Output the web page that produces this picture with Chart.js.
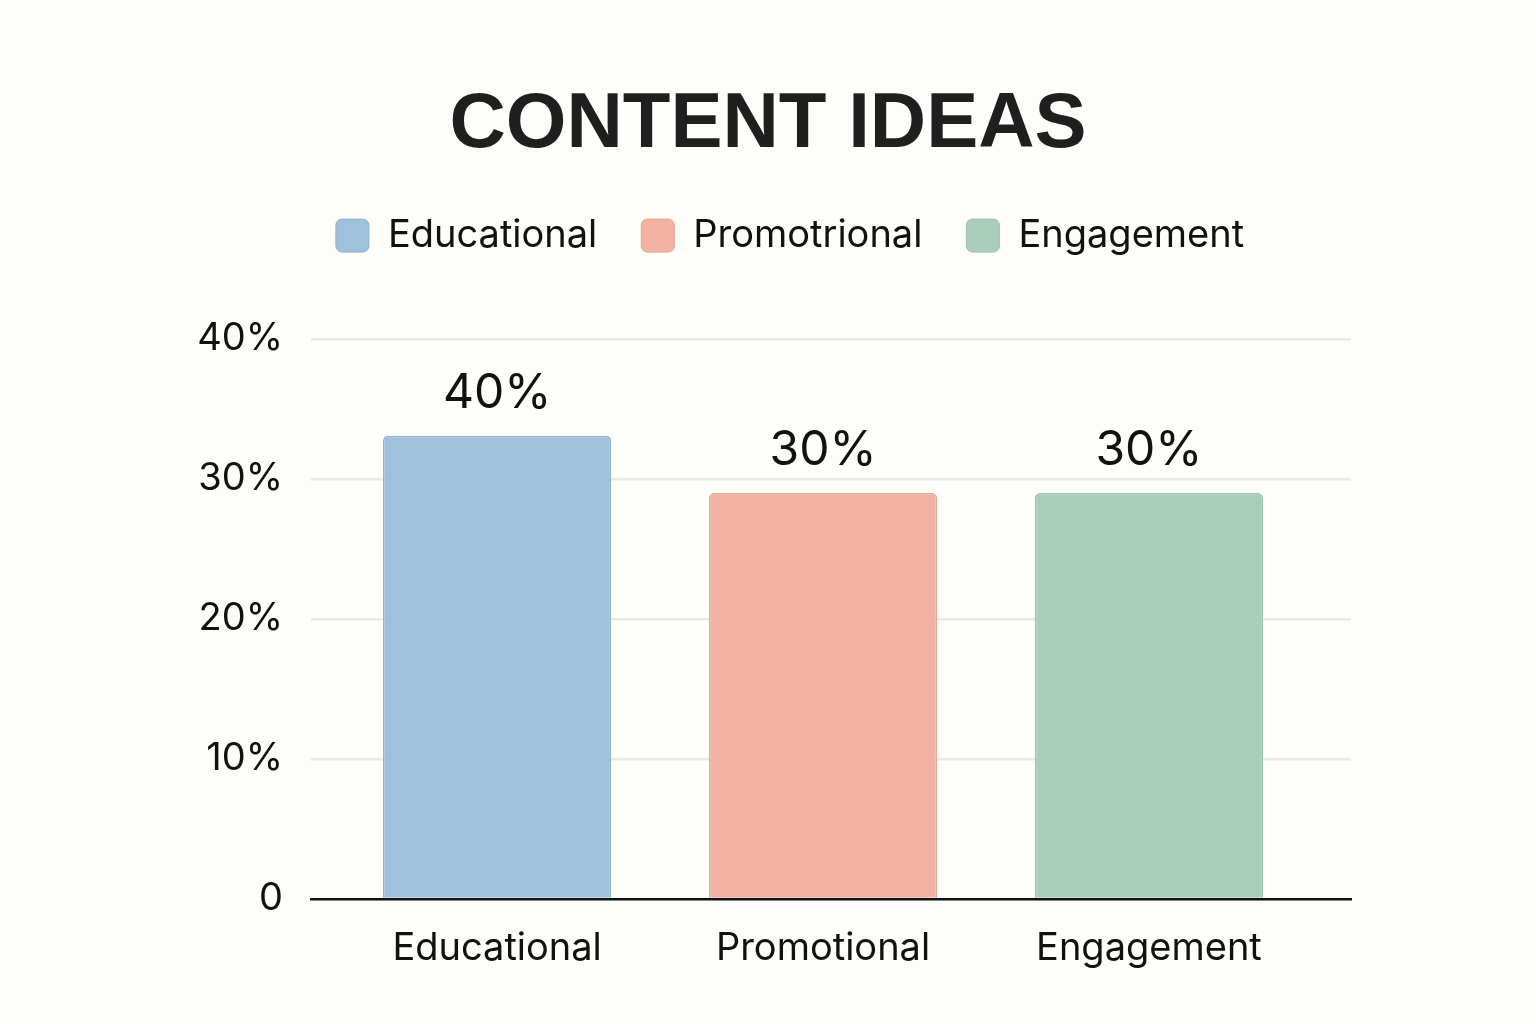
<!DOCTYPE html>
<html>
<head>
<meta charset="utf-8">
<script src="https://cdn.jsdelivr.net/npm/chart.js@4.4.1/dist/chart.umd.min.js"></script>
<style>
  html, body { margin: 0; padding: 0; background: #fdfdf9; }
  #wrap { width: 1536px; height: 1024px; }
</style>
</head>
<body>
<div id="wrap"><canvas id="c" width="1536" height="1024"></canvas></div>
<script>
const titleText = 'CONTENT IDEAS';
const categories = ['Educational', 'Promotional', 'Engagement'];
const legendNames = ['Educational', 'Promotrional', 'Engagement'];
const barHeights = [33.1, 29.0, 29.0];
const valueLabels = ['40%', '30%', '30%'];
const yTickValues = [0, 10, 20, 30, 40];
const yTickLabels = ['0', '10%', '20%', '30%', '40%'];
const fillColors = ['#9fc0db', '#f1b2a3', '#a9cdba'];
const borderColors = ['#8fb3d2', '#e8a595', '#9cc3ae'];

const FONT = 'Inter, "Noto Sans", sans-serif';

const valueLabelPlugin = {
  id: 'valueLabels',
  afterDatasetsDraw(chart) {
    const ctx = chart.ctx;
    const meta = chart.getDatasetMeta(0);
    ctx.save();
    ctx.font = '48px ' + FONT;
    ctx.fillStyle = '#111';
    ctx.textAlign = 'center';
    ctx.textBaseline = 'middle';
    meta.data.forEach((bar, i) => {
      ctx.fillText(valueLabels[i], bar.x, bar.y - 42);
    });
    ctx.restore();
  }
};

const bgPlugin = {
  id: 'bg',
  beforeDraw(chart) {
    const ctx = chart.ctx;
    ctx.save();
    ctx.fillStyle = '#fdfdf9';
    ctx.fillRect(0, 0, chart.width, chart.height);
    ctx.restore();
  }
};

const legendShiftPlugin = {
  id: 'legendShift',
  afterLayout(chart) {
    if (chart.legend) {
      chart.legend.left += 22;
      chart.legend.right += 22;
    }
  }
};

new Chart(document.getElementById('c'), {
  type: 'bar',
  data: {
    datasets: [{
      data: barHeights.map((v, i) => ({ x: i, y: v })),
      backgroundColor: fillColors,
      borderColor: borderColors,
      borderWidth: 1.5,
      borderSkipped: 'bottom',
      borderRadius: { topLeft: 5, topRight: 5, bottomLeft: 0, bottomRight: 0 },
      barPercentage: 0.7,
      categoryPercentage: 1.0
    }]
  },
  options: {
    responsive: false,
    animation: false,
    devicePixelRatio: 1,
    layout: { padding: 0 },
    plugins: {
      title: {
        display: true,
        text: titleText,
        color: '#1f1f1f',
        font: { family: '"Liberation Sans", Arial, sans-serif', size: 78, weight: 'bold', lineHeight: 1.2 },
        padding: { top: 79, bottom: 0 }
      },
      legend: {
        display: true,
        position: 'top',
        align: 'center',
        labels: {
          font: { family: FONT, size: 38 },
          color: '#111',
          boxWidth: 33,
          boxHeight: 33,
          padding: 44,
          useBorderRadius: true,
          borderRadius: 6,
          generateLabels() {
            return legendNames.map((n, i) => ({
              text: n,
              fillStyle: fillColors[i],
              strokeStyle: borderColors[i],
              lineWidth: 1,
              borderRadius: 6,
              fontColor: '#111',
              index: i
            }));
          }
        }
      },
      tooltip: { enabled: false }
    },
    scales: {
      x: {
        type: 'linear',
        offset: false,
        bounds: 'data',
        min: -0.571,
        max: 2.62,
        afterBuildTicks(scale) { scale.ticks = categories.map((c, i) => ({ value: i })); },
        afterFit(scale) { scale.height = 125; },
        ticks: {
          font: { family: FONT, size: 38 },
          color: '#111',
          padding: 27,
          maxRotation: 0,
          autoSkip: false,
          callback: (v) => categories[v]
        },
        grid: { display: false, drawTicks: false, offset: false },
        border: { display: true, color: '#111', width: 2.5 }
      },
      y: {
        type: 'linear',
        position: 'left',
        min: 0,
        max: 45.32,
        afterBuildTicks(scale) { scale.ticks = yTickValues.map(v => ({ value: v })); },
        afterFit(scale) { scale.width = 311; },
        ticks: {
          font: { family: FONT, size: 38 },
          color: '#111',
          padding: 28,
          callback: (v) => yTickLabels[yTickValues.indexOf(v)]
        },
        grid: {
          color: (c) => c.tick && c.tick.value === 0 ? 'rgba(0,0,0,0)' : '#e9e9e6',
          lineWidth: 2.5,
          drawTicks: false
        },
        border: { display: false }
      },
      yRight: {
        type: 'linear',
        position: 'right',
        afterFit(scale) { scale.width = 185; },
        ticks: { display: false },
        grid: { display: false, drawTicks: false },
        border: { display: false }
      }
    }
  },
  plugins: [bgPlugin, legendShiftPlugin, valueLabelPlugin]
});
</script>
</body>
</html>
